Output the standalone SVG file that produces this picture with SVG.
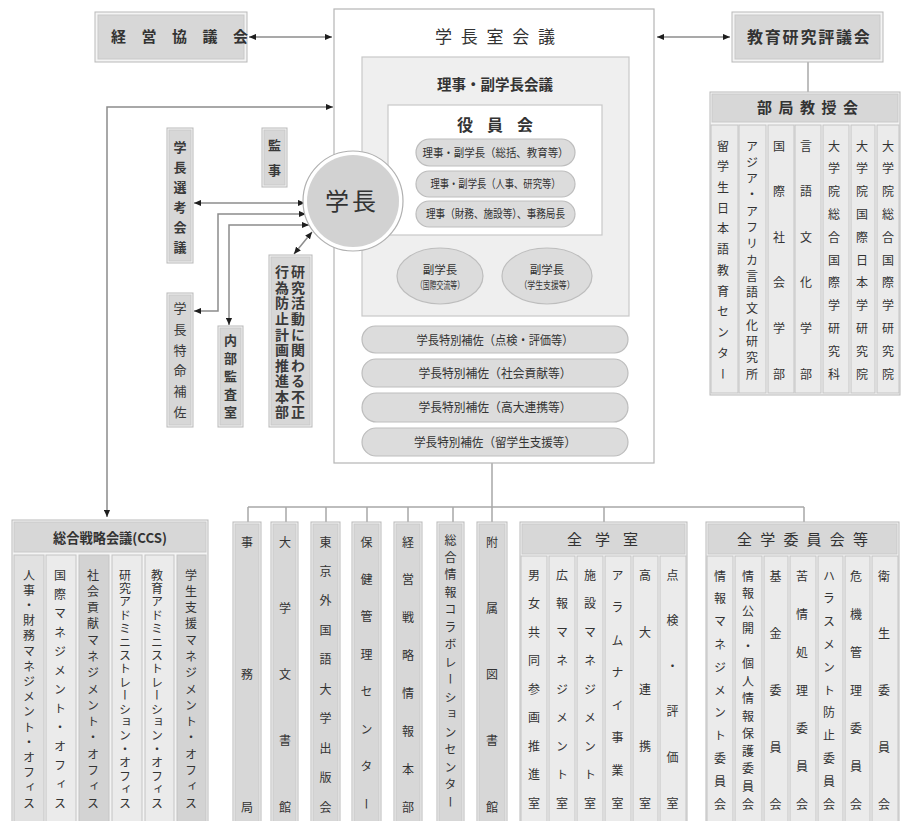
<svg xmlns="http://www.w3.org/2000/svg" width="903" height="821" viewBox="0 0 903 821">
<style>
text{font-family:"Noto Sans CJK JP","Noto Sans",sans-serif;fill:#333}
.h{font-weight:bold}
.v{writing-mode:vertical-rl;font-size:12px}
.vb{writing-mode:vertical-rl;font-size:13px;font-weight:bold;fill:#3a3a3a}
.bo{fill:#f4f4f4;stroke:#b9b9b9;stroke-width:1}
.bi{fill:#d7d7d7;stroke:#c9c9c9;stroke-width:1}
.col{fill:#ebebeb;stroke:#c4c4c4;stroke-width:1}
.cd{fill:#d3d3d3;stroke:#c4c4c4;stroke-width:1}
.cm{fill:#e1e1e1;stroke:#c4c4c4;stroke-width:1}
.pill{fill:#dcdcdc;stroke:#bdbdbd;stroke-width:1.2}
.ar{fill:none;stroke:#8c8c8c;stroke-width:1.5;marker-start:url(#ah);marker-end:url(#ah)}
.ln{fill:none;stroke:#a8a8a8;stroke-width:1.5}
</style>
<defs>
<marker id="ah" viewBox="0 0 8 8" refX="8" refY="4" markerWidth="7" markerHeight="7" markerUnits="userSpaceOnUse" orient="auto-start-reverse"><path d="M0,0.5 L8,4 L0,7.5 z" fill="#1e1e1e"/></marker>
</defs>
<rect width="903" height="821" fill="#fff"/>

<g id="connectors">
<path class="ar" d="M249,37 H332"/>
<path class="ar" d="M657,37 H730"/>
<path class="ln" d="M808,62 V92"/>
<path class="ar" d="M107,517 V107 H333"/>
<path class="ar" d="M194,203 H305"/>
<path class="ar" d="M306,214 H218 V311 H194"/>
<path class="ar" d="M309,225 H229 V325"/>
<path class="ar" d="M312,232 L294,254"/>
<path class="ln" d="M492,463 V522 M248,507 H804 M248,507 V522 M286,507 V522 M326,507 V522 M367,507 V522 M408,507 V522 M453,507 V522 M604,507 V522 M804,507 V522"/>
</g>

<g id="keiei-kyogikai">
<rect class="bo" x="95" y="12" width="152" height="50"/>
<rect class="bi" x="98" y="15" width="146" height="44"/>
<text class="h" x="111" y="42" style="font-size:15px;letter-spacing:15.5px">経営協議会</text>
</g>

<g id="gakucho-shitsu-kaigi">
<rect x="334" y="9" width="320" height="454" fill="#fff" stroke="#b5b5b5" stroke-width="1.2"/>
<text x="435" y="43" style="font-size:17px;letter-spacing:8.75px">学長室会議</text>
</g>

<g id="riji-fukugakucho-kaigi">
<rect x="362" y="57" width="267" height="259" fill="#efefef" stroke="#c8c8c8" stroke-width="1.2"/>
<text class="h" x="495" y="90" text-anchor="middle" style="font-size:14.5px">理事・副学長会議</text>
</g>

<g id="yakuinkai">
<rect x="388" y="105" width="214" height="130" fill="#fff" stroke="#c8c8c8" stroke-width="1.2"/>
<text class="h" x="457" y="131" style="font-size:16px;letter-spacing:14px">役員会</text>
<rect class="pill" x="416" y="139" width="159" height="27" rx="13.5"/>
<text x="495.5" y="156.5" text-anchor="middle" style="font-size:11.5px" textLength="146" lengthAdjust="spacingAndGlyphs">理事・副学長（総括、教育等）</text>
<rect class="pill" x="416" y="171" width="159" height="26" rx="13"/>
<text x="495.5" y="188" text-anchor="middle" style="font-size:11.5px" textLength="130" lengthAdjust="spacingAndGlyphs">理事・副学長（人事、研究等）</text>
<rect class="pill" x="416" y="201" width="159" height="26" rx="13"/>
<text x="495.5" y="218" text-anchor="middle" style="font-size:11.5px" textLength="139" lengthAdjust="spacingAndGlyphs">理事（財務、施設等）、事務局長</text>
</g>

<g id="fukugakucho-kokusai">
<ellipse cx="440" cy="276" rx="43" ry="28" fill="#dcdcdc" stroke="#bdbdbd" stroke-width="1.2"/>
<text x="440" y="274" text-anchor="middle" style="font-size:11.5px">副学長</text>
<text x="440" y="289" text-anchor="middle" style="font-size:10px" textLength="48" lengthAdjust="spacingAndGlyphs">（国際交流等）</text>
</g>
<g id="fukugakucho-gakusei">
<ellipse cx="547" cy="276" rx="45" ry="28" fill="#dcdcdc" stroke="#bdbdbd" stroke-width="1.2"/>
<text x="547" y="274" text-anchor="middle" style="font-size:11.5px">副学長</text>
<text x="547" y="289" text-anchor="middle" style="font-size:10px" textLength="55" lengthAdjust="spacingAndGlyphs">（学生支援等）</text>
</g>

<g id="tokubetsu-hosa">
<rect class="pill" x="362" y="326" width="266" height="27" rx="13.5"/>
<text x="495" y="344.5" text-anchor="middle" style="font-size:12.5px" textLength="157" lengthAdjust="spacingAndGlyphs">学長特別補佐（点検・評価等）</text>
<rect class="pill" x="362" y="359" width="266" height="28" rx="14"/>
<text x="495" y="377.5" text-anchor="middle" style="font-size:12.5px" textLength="153" lengthAdjust="spacingAndGlyphs">学長特別補佐（社会貢献等）</text>
<rect class="pill" x="362" y="393" width="266" height="29" rx="14.5"/>
<text x="495" y="411.5" text-anchor="middle" style="font-size:12.5px" textLength="153" lengthAdjust="spacingAndGlyphs">学長特別補佐（高大連携等）</text>
<rect class="pill" x="362" y="428" width="266" height="28" rx="14"/>
<text x="495" y="446.5" text-anchor="middle" style="font-size:12.5px" textLength="162" lengthAdjust="spacingAndGlyphs">学長特別補佐（留学生支援等）</text>
</g>

<g id="gakucho">
<circle cx="353" cy="201" r="50" fill="#fff" stroke="#b0b0b0" stroke-width="1.2"/>
<circle cx="353" cy="201" r="46" fill="#d2d2d2"/>
<text x="352" y="210" text-anchor="middle" style="font-size:24px;letter-spacing:3px">学長</text>
</g>

<g id="kyoiku-kenkyu-hyogikai">
<rect class="bo" x="732" y="12" width="151" height="50"/>
<rect class="bi" x="735" y="15" width="145" height="44"/>
<text class="h" x="747" y="42.5" style="font-size:16px;letter-spacing:1.8px">教育研究評議会</text>
</g>

<g id="bukyoku-kyojukai">
<rect class="bo" x="710" y="92" width="190" height="303"/>
<rect class="bi" x="712" y="94" width="186" height="28"/>
<text class="h" x="757" y="113" style="font-size:15px;letter-spacing:6.5px">部局教授会</text>
<rect class="col" x="711" y="125" width="27" height="268"/>
<rect class="col" x="739" y="125" width="27" height="268"/>
<rect class="col" x="768" y="125" width="26" height="268"/>
<rect class="col" x="795" y="125" width="26" height="268"/>
<rect class="col" x="823" y="125" width="26" height="268"/>
<rect class="col" x="851" y="125" width="24" height="268"/>
<rect class="col" x="877" y="125" width="22" height="268"/>
<text class="v" x="723" y="140" textLength="240" lengthAdjust="spacing">留学生日本語教育センター</text>
<text class="v" x="752" y="140" textLength="240" lengthAdjust="spacing">アジア・アフリカ言語文化研究所</text>
<text class="v" x="779" y="140" textLength="240" lengthAdjust="spacing">国際社会学部</text>
<text class="v" x="806" y="140" textLength="240" lengthAdjust="spacing">言語文化学部</text>
<text class="v" x="834" y="140" textLength="240" lengthAdjust="spacing">大学院総合国際学研究科</text>
<text class="v" x="862" y="140" textLength="240" lengthAdjust="spacing">大学院国際日本学研究院</text>
<text class="v" x="888" y="140" textLength="240" lengthAdjust="spacing">大学院総合国際学研究院</text>
</g>

<g id="gakucho-senko-kaigi">
<rect class="bo" x="167" y="128" width="26" height="135"/>
<rect class="bi" x="169" y="130" width="22" height="131"/>
<text class="vb" x="180" y="140.5" textLength="113" lengthAdjust="spacing">学長選考会議</text>
</g>
<g id="kanji">
<rect class="bo" x="262" y="128" width="25" height="59"/>
<rect class="bi" x="264" y="130" width="21" height="55"/>
<text class="vb" x="274.5" y="138.5" textLength="38" lengthAdjust="spacing">監事</text>
</g>
<g id="gakucho-tokumei-hosa">
<rect class="bo" x="167" y="293" width="26" height="134"/>
<rect class="bi" x="169" y="295" width="22" height="130"/>
<text class="vb" x="180" y="301.5" style="font-weight:normal" textLength="117" lengthAdjust="spacing">学長特命補佐</text>
</g>
<g id="naibu-kansa-shitsu">
<rect class="bo" x="218" y="326" width="25" height="101"/>
<rect class="bi" x="220" y="328" width="21" height="97"/>
<text class="vb" x="230.5" y="333.5" textLength="85" lengthAdjust="spacing">内部監査室</text>
</g>
<g id="kenkyu-fusei-boshi">
<rect class="bo" x="269" y="255" width="43" height="172"/>
<rect class="bi" x="271" y="257" width="39" height="168"/>
<text class="vb" x="298" y="265" style="font-size:14px" textLength="154" lengthAdjust="spacing">研究活動に関わる不正</text>
<text class="vb" x="282" y="265" style="font-size:14px" textLength="154" lengthAdjust="spacing">行為防止計画推進本部</text>
</g>

<g id="ccs">
<rect class="bo" x="12" y="520" width="196" height="305"/>
<rect class="bi" x="14" y="522" width="192" height="30"/>
<text class="h" x="110" y="543" text-anchor="middle" style="font-size:13.5px" textLength="114" lengthAdjust="spacingAndGlyphs">総合戦略会議(CCS)</text>
<rect class="cm" x="14" y="555" width="30" height="270"/>
<rect class="col" x="46" y="555" width="30" height="270"/>
<rect class="cd" x="79" y="555" width="30" height="270"/>
<rect class="col" x="112" y="555" width="30" height="270"/>
<rect class="col" x="145" y="555" width="29" height="270"/>
<rect class="cd" x="177" y="555" width="29" height="270"/>
<text class="v" x="29" y="569" textLength="240" lengthAdjust="spacing">人事・財務マネジメント・オフィス</text>
<text class="v" x="60" y="569" textLength="240" lengthAdjust="spacing">国際マネジメント・オフィス</text>
<text class="v" x="93" y="569" textLength="240" lengthAdjust="spacing">社会貢献マネジメント・オフィス</text>
<text class="v" x="125" y="569" textLength="240" lengthAdjust="spacing">研究アドミニストレーション・オフィス</text>
<text class="v" x="157" y="569" textLength="240" lengthAdjust="spacing">教育アドミニストレーション・オフィス</text>
<text class="v" x="191" y="569" textLength="240" lengthAdjust="spacing">学生支援マネジメント・オフィス</text>
</g>

<g id="jimukyoku">
<rect class="bo" x="233" y="522" width="28" height="305"/>
<rect class="bi" x="235" y="524" width="24" height="305"/>
<text class="v" x="247" y="536" textLength="277" lengthAdjust="spacing">事務局</text>
</g>
<g id="daigaku-bunshokan">
<rect class="bo" x="271" y="522" width="27" height="305"/>
<rect class="bi" x="273" y="524" width="23" height="305"/>
<text class="v" x="285" y="536" textLength="277" lengthAdjust="spacing">大学文書館</text>
</g>
<g id="shuppankai">
<rect class="bo" x="311" y="522" width="29" height="305"/>
<rect class="bi" x="313" y="524" width="25" height="305"/>
<text class="v" x="325.5" y="536" textLength="277" lengthAdjust="spacing">東京外国語大学出版会</text>
</g>
<g id="hoken-kanri-center">
<rect class="bo" x="352" y="522" width="29" height="305"/>
<rect class="bi" x="354" y="524" width="25" height="305"/>
<text class="v" x="366.5" y="536" textLength="274" lengthAdjust="spacing">保健管理センター</text>
</g>
<g id="keiei-senryaku-joho">
<rect class="bo" x="394" y="522" width="28" height="305"/>
<rect class="bi" x="396" y="524" width="24" height="305"/>
<text class="v" x="408" y="536" textLength="277" lengthAdjust="spacing">経営戦略情報本部</text>
</g>
<g id="sogo-joho-collab">
<rect class="bo" x="437" y="522" width="27" height="305"/>
<rect class="bi" x="439" y="524" width="23" height="305"/>
<text class="v" x="450.5" y="534" textLength="274" lengthAdjust="spacing">総合情報コラボレーションセンター</text>
</g>
<g id="fuzoku-toshokan">
<rect class="bo" x="477" y="522" width="30" height="305"/>
<rect class="bi" x="479" y="524" width="26" height="305"/>
<text class="v" x="492" y="536" textLength="277" lengthAdjust="spacing">附属図書館</text>
</g>

<g id="zengakushitsu">
<rect class="bo" x="520" y="522" width="167" height="305"/>
<rect class="bi" x="522" y="524" width="163" height="30"/>
<text x="567" y="544.5" style="font-size:15px;letter-spacing:13px">全学室</text>
<rect class="col" x="521" y="556" width="26" height="270"/>
<rect class="col" x="549" y="556" width="26" height="270"/>
<rect class="col" x="577" y="556" width="26" height="270"/>
<rect class="col" x="605" y="556" width="26" height="270"/>
<rect class="col" x="633" y="556" width="25" height="270"/>
<rect class="col" x="660" y="556" width="26" height="270"/>
<text class="v" x="534" y="569" textLength="240" lengthAdjust="spacing">男女共同参画推進室</text>
<text class="v" x="562" y="569" textLength="240" lengthAdjust="spacing">広報マネジメント室</text>
<text class="v" x="590" y="569" textLength="240" lengthAdjust="spacing">施設マネジメント室</text>
<text class="v" x="617.5" y="569" textLength="240" lengthAdjust="spacing">アラムナイ事業室</text>
<text class="v" x="645" y="569" textLength="240" lengthAdjust="spacing">高大連携室</text>
<text class="v" x="672.5" y="569" textLength="240" lengthAdjust="spacing">点検・評価室</text>
</g>

<g id="zengaku-iinkai">
<rect class="bo" x="706" y="522" width="193" height="305"/>
<rect class="bi" x="708" y="524" width="189" height="30"/>
<text x="737" y="544.5" style="font-size:15px;letter-spacing:8.2px">全学委員会等</text>
<rect class="col" x="707" y="556" width="26" height="270"/>
<rect class="col" x="735" y="556" width="27" height="270"/>
<rect class="col" x="764" y="556" width="24" height="270"/>
<rect class="col" x="790" y="556" width="26" height="270"/>
<rect class="col" x="818" y="556" width="25" height="270"/>
<rect class="col" x="845" y="556" width="25" height="270"/>
<rect class="col" x="872" y="556" width="26" height="270"/>
<text class="v" x="720" y="570" textLength="240" lengthAdjust="spacing">情報マネジメント委員会</text>
<text class="v" x="748" y="570" textLength="240" lengthAdjust="spacing">情報公開・個人情報保護委員会</text>
<text class="v" x="775.5" y="570" textLength="240" lengthAdjust="spacing">基金委員会</text>
<text class="v" x="802" y="570" textLength="240" lengthAdjust="spacing">苦情処理委員会</text>
<text class="v" x="829" y="570" textLength="240" lengthAdjust="spacing">ハラスメント防止委員会</text>
<text class="v" x="856" y="570" textLength="240" lengthAdjust="spacing">危機管理委員会</text>
<text class="v" x="884" y="570" textLength="240" lengthAdjust="spacing">衛生委員会</text>
</g>
</svg>
